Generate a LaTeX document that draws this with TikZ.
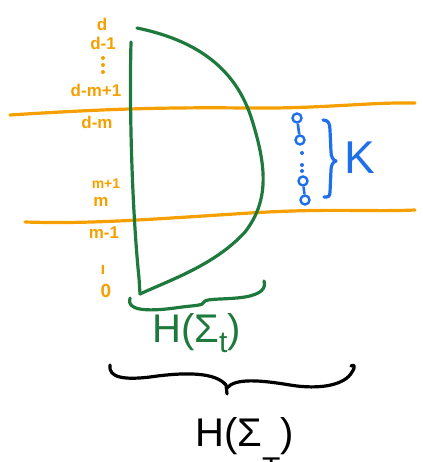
\documentclass[tikz,border=0pt]{standalone}
\usepackage{fontspec}
\setmainfont{Liberation Sans}
\definecolor{myorange}{HTML}{F5A000}
\definecolor{mygreen}{HTML}{1E7A3C}
\definecolor{myblue}{HTML}{1F6FEA}
\begin{document}
\begin{tikzpicture}[x=1pt,y=-1pt,
  pen/.style={line width=3.2pt,line cap=round,line join=round},
  olab/.style={text=myorange,font=\fontsize{17}{17}\selectfont\bfseries,inner sep=0pt},
  bdot/.style={circle,draw=myblue,line width=2.4pt,minimum size=9pt,inner sep=0pt},
  sdot/.style={circle,fill=myblue,minimum size=4pt,inner sep=0pt},
  odot/.style={circle,fill=myorange,minimum size=4pt,inner sep=0pt}]
\useasboundingbox (0,0) rectangle (422,462);
% orange lines
\coordinate (u1) at (10,115); \coordinate (u2) at (415,103);
\coordinate (w1) at (25,222); \coordinate (w2) at (415,210);
\draw[pen,myorange] (u1) .. controls (90,110) and (150,107) .. (245,108) .. controls (320,109) and (370,102) .. (u2);
\draw[pen,myorange] (w1) .. controls (90,224) and (140,220) .. (250,213) .. controls (330,208) and (370,212) .. (w2);
% orange labels
\node[olab] (ld) at (102,24) {d};
\node[olab] (ld1) at (103,43) {d-1};
\node[odot] (v1) at (103,58) {};
\node[odot] (v2) at (103,65) {};
\node[odot] (v3) at (103,72) {};
\node[olab] (ldm1) at (96,90) {d-m+1};
\node[olab] (ldm) at (97,122) {d-m};
\node[olab,font=\fontsize{14}{14}\selectfont\bfseries] (lm1) at (106,184) {m+1};
\node[olab] (lm) at (101,202) {m};
\node[olab] (lmm1) at (104,233) {m-1};
\node[olab] (l1) at (103,270) {ı};
\node[olab,font=\fontsize{19}{19}\selectfont\bfseries] (l0) at (106,291) {0};
% green shape
\coordinate (gt) at (137,28);
\coordinate (gl) at (131,42);
\coordinate (gb) at (140,294);
\draw[pen,mygreen] (gt) .. controls (205,42) and (238,75) .. (252,120) .. controls (266,165) and (270,200) .. (245,232) .. controls (215,265) and (170,280) .. (gb);
\draw[pen,mygreen] (gl) .. controls (129,120) and (133,220) .. (139,278) -- (gb);
% green brace
\coordinate (gb1) at (130,298); \coordinate (gb2) at (264,281);
\draw[pen,mygreen] (gb1) .. controls (126,310) and (145,312) .. (175,308) .. controls (195,305) and (203,306) .. (204,302)
  .. controls (206,298) and (225,300) .. (245,297) .. controls (262,294) and (266,288) .. (gb2);
\node[text=mygreen,font=\fontsize{40}{40}\selectfont,anchor=base west,inner sep=0pt] (gH) at (152,342)
  {H(Σ\raisebox{-10pt}{\fontsize{30}{30}\selectfont t})};
% blue chain
\node[bdot] (c1) at (297,118) {};
\node[bdot] (c2) at (300,140) {};
\node[sdot] (s1) at (302,153) {};
\node[sdot] (s2) at (302,165) {};
\node[sdot] (s3) at (302,171) {};
\node[bdot] (c3) at (303,181) {};
\node[bdot] (c4) at (305,200) {};
\draw[myblue,line width=2.6pt] (c1) -- (c2);
\draw[myblue,line width=2.6pt] (c3) -- (c4);
% blue brace
\draw[pen,myblue] (323,120) .. controls (328,120) and (330,123) .. (330,130) -- (331,152) .. controls (331,157) and (333,160) .. (336,161)
  .. controls (333,162) and (331,165) .. (331,170) -- (330,192) .. controls (330,197) and (328,197) .. (324,197);
\node[text=myblue,font=\fontsize{46}{46}\selectfont,inner sep=0pt] (K) at (360,158) {K};
% black brace
\draw[pen,black] (110,365) .. controls (108,378) and (125,380) .. (150,377) .. controls (185,372) and (215,372) .. (226,385)
  -- (227,394);
\draw[pen,black] (227,388) .. controls (235,378) and (260,380) .. (290,385) .. controls (320,390) and (345,385) .. (352,372)
  .. controls (356,366) and (354,364) .. (351,366);
\node[font=\fontsize{40}{40}\selectfont,anchor=base west,inner sep=0pt] (bH) at (195,446)
  {H(Σ\raisebox{-32pt}{\fontsize{30}{30}\selectfont T})};
\end{tikzpicture}
\end{document}
